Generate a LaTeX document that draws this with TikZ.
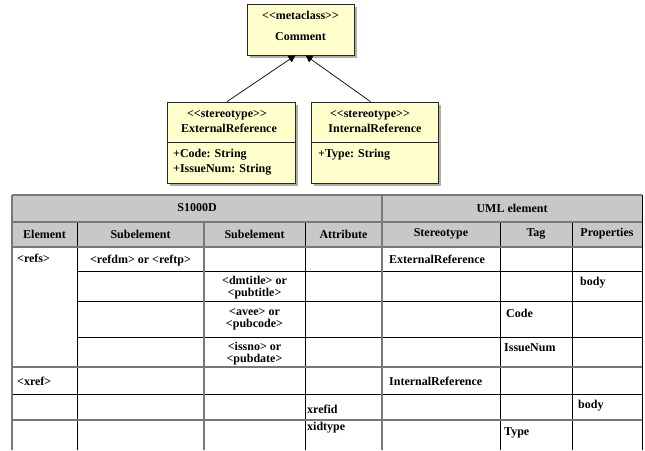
\documentclass[tikz,border=0pt]{standalone}
\usepackage{fontspec}
\setmainfont{Liberation Serif}
\usetikzlibrary{arrows.meta,shadows}
\definecolor{boxfill}{RGB}{255,255,204}
\definecolor{hdrfill}{RGB}{200,200,200}
\definecolor{gridgray}{RGB}{120,120,120}
\definecolor{shadowgray}{RGB}{175,175,175}
\tikzset{
  txt/.style={inner sep=0pt,font=\fontsize{12}{12}\selectfont\bfseries},
  two/.style={txt,align=center},
  lft/.style={txt,anchor=west},
  umlbox/.style={draw=black!85,line width=0.7pt,fill=boxfill,inner sep=0pt,
     drop shadow={shadow xshift=3pt,shadow yshift=-3pt,fill=shadowgray,opacity=1}},
  gen/.style={draw=black,line width=0.7pt,-{Triangle[length=7pt,width=7pt]}},
  gline/.style={draw=gridgray,line width=1.3pt},
  bline/.style={draw=black,line width=0.8pt}
}
\begin{document}
\begin{tikzpicture}[x=1pt,y=-1pt]
\useasboundingbox (0,0) rectangle (645,450);
\fill[white] (0,0) rectangle (645,450);
% UML part
\node[umlbox,minimum width=107pt,minimum height=51pt] (com) at (300.5,29.5) {};
\node[txt] (comst) at (300.5,15) {<{}<metaclass>{}>};
\node[txt] (comnm) at (300.5,37) {Comment};
\node[umlbox,minimum width=128pt,minimum height=81pt] (ext) at (231,142.5) {};
\draw[black!85,line width=0.7pt] (ext.west) -- (ext.east);
\node[txt] (extst) at (227,115) {<{}<stereotype>{}>};
\node[txt] (extnm) at (229,128) {ExternalReference};
\node[lft] (exta1) at (173,155) {+Code: String};
\node[lft] (exta2) at (173,170) {+IssueNum: String};
\node[umlbox,minimum width=127pt,minimum height=81pt] (int) at (374.5,142.5) {};
\draw[black!85,line width=0.7pt] (int.west) -- (int.east);
\node[txt] (intst) at (370,115) {<{}<stereotype>{}>};
\node[txt] (intnm) at (375,128) {InternalReference};
\node[lft] (inta1) at (318,155) {+Type: String};
\draw[gen] ([xshift=-4pt]ext.north) -- ([xshift=-5pt]com.south);
\draw[gen] ([xshift=-4pt]int.north) -- ([xshift=5pt]com.south);
% table
\fill[hdrfill] (12,195) rectangle (642,247);
\draw[bline] (77,222) -- (77,450);
\draw[bline] (305,222) -- (305,450);
\draw[bline] (500,222) -- (500,450);
\draw[bline] (572,222) -- (572,450);
\draw[bline] (642,195) -- (642,450);
\draw[bline] (77,271) -- (642,271);
\draw[bline] (77,301) -- (642,301);
\draw[bline] (77,337) -- (642,337);
\draw[bline] (12,394) -- (642,394);
\draw[gline] (204,222) -- (204,450);
\draw[gline] (382,195) -- (382,450);
\draw[gline] (12,195) -- (12,450);
\draw[gline] (12,195) -- (642,195);
\draw[gline] (12,222) -- (642,222);
\draw[gline] (12,247) -- (642,247);
\draw[gline] (12,367) -- (642,367);
\draw[gline] (12,420) -- (642,420);
% header text
\node[txt] (h0) at (197,208) {S1000D};
\node[txt] (h1) at (512,208) {UML element};
\node[txt] (c1) at (44.5,234) {Element};
\node[txt] (c2) at (140.5,234) {Subelement};
\node[txt] (c3) at (254.5,234) {Subelement};
\node[txt] (c4) at (343.5,234) {Attribute};
\node[txt] (c5) at (441,234) {Stereotype};
\node[txt] (c6) at (536,234) {Tag};
\node[txt] (c7) at (607,234) {Properties};
% body text
\node[lft] (r1a) at (17,258) {<refs>};
\node[txt] (r1b) at (140.5,261) {<refdm> or <reftp>};
\node[lft] (r1c) at (389,259) {ExternalReference};
\node[two] (r2a) at (254.5,287.5) {<dmtitle> or\\<pubtitle>};
\node[lft] (r2c) at (580,283) {body};
\node[two] (r3a) at (254.5,319.5) {<avee> or\\<pubcode>};
\node[lft] (r3c) at (506,313) {Code};
\node[two] (r4a) at (254.5,353.5) {<issno> or\\<pubdate>};
\node[lft] (r4c) at (504,348) {IssueNum};
\node[lft] (r5a) at (17,381) {<xref>};
\node[lft] (r5b) at (389,381) {InternalReference};
\node[lft] (r6a) at (307,409) {xrefid};
\node[lft] (r6b) at (578,406) {body};
\node[lft] (r7a) at (307,428) {xidtype};
\node[lft] (r7b) at (504,433) {Type};
\end{tikzpicture}
\end{document}
